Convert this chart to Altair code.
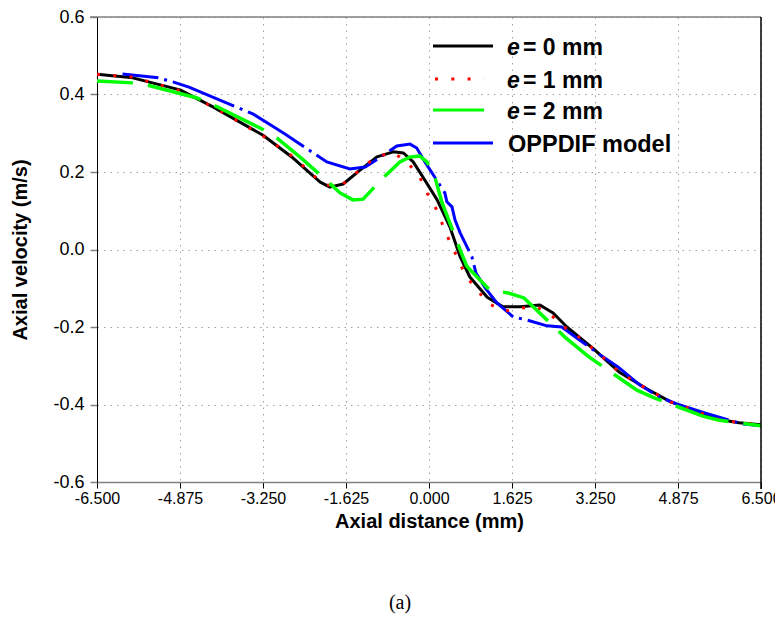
import altair as alt
import pandas as pd

# ---------------- data ----------------
x_ticks = [-6.5, -4.875, -3.25, -1.625, 0.0, 1.625, 3.25, 4.875, 6.5]
y_ticks = [-0.6, -0.4, -0.2, 0.0, 0.2, 0.4, 0.6]

legend_prefix = ["e", "e", "e", ""]
legend_rest = ["= 0 mm", "= 1 mm", "= 2 mm", "OPPDIF model"]

# e = 0 mm
x_e0 = [-6.5, -5.8, -4.875, -4.23, -3.25, -2.66, -2.33, -2.13, -1.94, -1.68, -1.35, -1.02,
        -0.7, -0.5, -0.31, -0.12, 0.16, 0.41, 0.61, 0.8, 1.14, 1.45, 1.78, 2.17, 2.43, 2.7,
        2.96, 3.27, 3.72, 4.27, 4.74, 5.13, 5.6, 6.07, 6.5]
y_e0 = [0.452, 0.443, 0.412, 0.368, 0.295, 0.236, 0.197, 0.174, 0.161, 0.169, 0.205, 0.239,
        0.252, 0.249, 0.226, 0.187, 0.128, 0.058, -0.019, -0.071, -0.123, -0.148, -0.148,
        -0.143, -0.164, -0.200, -0.228, -0.262, -0.316, -0.360, -0.394, -0.412, -0.437,
        -0.447, -0.452]

# e = 1 mm
x_e1 = [-6.5, -5.8, -4.875, -4.2, -3.25, -2.58, -2.33, -2.0, -1.68, -1.38, -1.03, -0.7,
        -0.43, -0.18, -0.04, 0.14, 0.27, 0.41, 0.55, 0.7, 0.92, 1.18, 1.49, 1.82, 2.11, 2.43,
        2.74, 2.96, 3.27, 3.72, 4.27, 4.74, 5.13, 5.6, 6.07, 6.5]
y_e1 = [0.452, 0.445, 0.41, 0.366, 0.293, 0.232, 0.197, 0.166, 0.169, 0.203, 0.240, 0.250,
        0.226, 0.187, 0.146, 0.105, 0.063, 0.019, -0.019, -0.063, -0.102, -0.141, -0.159,
        -0.151, -0.148, -0.174, -0.210, -0.228, -0.262, -0.316, -0.360, -0.394, -0.412,
        -0.437, -0.447, -0.452]

# e = 2 mm
x_e2 = [-6.5, -5.8, -5.5, -4.54, -4.25, -3.27, -2.98, -2.53, -2.08, -1.74, -1.49, -1.29,
        -0.86, -0.57, -0.37, -0.18, -0.04, 0.12, 0.25, 0.61, 0.74, 1.19, 1.55, 1.86, 2.66,
        3.13, 4.07, 4.41, 5.36, 5.66, 6.5]
y_e2 = [0.435, 0.430, 0.424, 0.391, 0.375, 0.311, 0.288, 0.239, 0.187, 0.146, 0.128, 0.130,
        0.190, 0.226, 0.239, 0.241, 0.226, 0.185, 0.123, -0.001, -0.043, -0.105, -0.112,
        -0.125, -0.226, -0.277, -0.363, -0.383, -0.430, -0.440, -0.455]

# OPPDIF model
x_op = [-6.0, -5.3, -5.0, -4.7, -3.45, -3.13, -2.82, -2.0, -1.55, -1.25, -1.0, -0.63, -0.37,
        -0.24, -0.08, 0.12, 0.31, 0.35, 0.45, 0.51, 0.61, 0.84, 0.92, 1.1, 1.33, 1.65, 1.92,
        2.31, 2.6, 2.92, 3.33, 3.7, 4.13, 4.52, 4.86, 5.4, 6.13, 6.5]
y_op = [0.453, 0.443, 0.432, 0.419, 0.350, 0.324, 0.298, 0.226, 0.208, 0.213, 0.234, 0.267,
        0.272, 0.262, 0.226, 0.185, 0.146, 0.123, 0.110, 0.076, 0.043, -0.019, -0.061,
        -0.099, -0.138, -0.174, -0.182, -0.197, -0.200, -0.231, -0.270, -0.303, -0.350,
        -0.381, -0.399, -0.422, -0.450, -0.455]

# ---------------- chart ----------------
W, H = 664, 465
FONT = "Liberation Sans"
MINUS = "\u2212"

xs = alt.Scale(domain=[-6.5, 6.5], nice=False, zero=False)
ys = alt.Scale(domain=[-0.6, 0.6], nice=False, zero=False)

xaxis = alt.Axis(
    values=x_ticks, title="Axial distance (mm)",
    labelExpr=f"replace(format(datum.value, '.3f'), '{MINUS}', '-')",
    titleFont=FONT, titleFontWeight="bold", titleFontSize=20, titleColor="black",
    titleY=39, titleBaseline="middle",
    labelFont=FONT, labelFontSize=16, labelColor="black",
    labelPadding=2, labelOverlap=False, labelFlush=False,
    tickColor="black", tickSize=6, tickWidth=1,
    domainColor="#808080", domainWidth=1.5,
    grid=True, gridColor="#a0a0a0", gridDash=[1.5, 5], gridWidth=1,
)
yaxis = alt.Axis(
    values=y_ticks, title="Axial velocity (m/s)",
    labelExpr=f"replace(format(datum.value, '.1f'), '{MINUS}', '-')",
    titleFont=FONT, titleFontWeight="bold", titleFontSize=20, titleColor="black",
    titleX=-77, titleY=H / 2, titleAngle=270, titleAlign="center", titleBaseline="middle",
    labelFont=FONT, labelFontSize=18, labelColor="black", labelPadding=6,
    labelOverlap=False, labelFlush=False,
    tickColor="#808080", tickSize=7, tickWidth=1.5,
    domainColor="black", domainWidth=1,
    grid=True, gridColor="#a0a0a0", gridDash=[1.5, 5], gridWidth=1,
)


def frame(xv, yv):
    return pd.DataFrame({"x": xv, "y": yv, "i": list(range(len(xv)))})


def curve(df, color, width, **kw):
    return alt.Chart(df).mark_line(color=color, strokeWidth=width, clip=True, **kw).encode(
        x=alt.X("x:Q", scale=xs, axis=xaxis),
        y=alt.Y("y:Q", scale=ys, axis=yaxis),
        order="i:Q",
    )


one = pd.DataFrame({"k": [0]})

black = curve(frame(x_e0, y_e0), "#000000", 3, strokeJoin="round")
blue = curve(frame(x_op, y_op), "#0000ff", 3, strokeDash=[66, 6, 3, 6], strokeDashOffset=30)
red = curve(frame(x_e1, y_e1), "#ff0000", 3, strokeDash=[3, 13.3])
green = curve(frame(x_e2, y_e2), "#00ff00", 3.5, strokeDash=[55, 15], strokeDashOffset=19)

top_border = alt.Chart(one).mark_rule(color="#808080", strokeWidth=1.5).encode(
    y=alt.datum(0.6, scale=ys), x=alt.value(-7), x2=alt.value(W))
right_border = alt.Chart(one).mark_rule(color="black", strokeWidth=1.5).encode(
    x=alt.datum(6.5, scale=xs), y=alt.value(0), y2=alt.value(H + 7))

# legend (drawn manually to get the italic "e")
leg_colors = ["#000000", "#ff0000", "#00ff00", "#0000ff"]
leg_dash = [None, [3, 13.3], None, None]
leg_x = [(336, 396), (338, 387), (336, 387), (336, 396)]
leg_y = [29, 62, 93, 126]
legend_layers = []
for k in range(4):
    rk = dict(color=leg_colors[k], strokeWidth=3)
    if leg_dash[k]:
        rk["strokeDash"] = leg_dash[k]
    legend_layers.append(alt.Chart(one).mark_rule(**rk).encode(
        x=alt.value(leg_x[k][0]), x2=alt.value(leg_x[k][1]), y=alt.value(leg_y[k])))
    if legend_prefix[k]:
        legend_layers.append(alt.Chart(one).mark_text(
            text=legend_prefix[k], font=FONT, fontSize=23, fontWeight="bold", fontStyle="italic",
            align="left", baseline="middle", color="black").encode(
            x=alt.value(410), y=alt.value(leg_y[k] + 2)))
        legend_layers.append(alt.Chart(one).mark_text(
            text=legend_rest[k], font=FONT, fontSize=23, fontWeight="bold",
            align="left", baseline="middle", color="black").encode(
            x=alt.value(426), y=alt.value(leg_y[k] + 2)))
    else:
        legend_layers.append(alt.Chart(one).mark_text(
            text=legend_rest[k], font=FONT, fontSize=23.5, fontWeight="bold",
            align="left", baseline="middle", color="black").encode(
            x=alt.value(411), y=alt.value(leg_y[k] + 2)))

caption = alt.Chart(one).mark_text(
    text="(a)", font="Liberation Serif", fontSize=20, align="center", baseline="middle",
    color="black").encode(x=alt.value(303), y=alt.value(586))

chart = alt.layer(
    black, blue, red, green, top_border, right_border, *legend_layers, caption
).properties(
    width=W, height=H,
    autosize=alt.AutoSizeParams(type="none"),
    padding={"left": 97, "top": 17, "right": 14, "bottom": 149},
    background="white",
).configure_view(stroke=None)

chart.save("out.html", embed_options={"renderer": "svg", "actions": False})
